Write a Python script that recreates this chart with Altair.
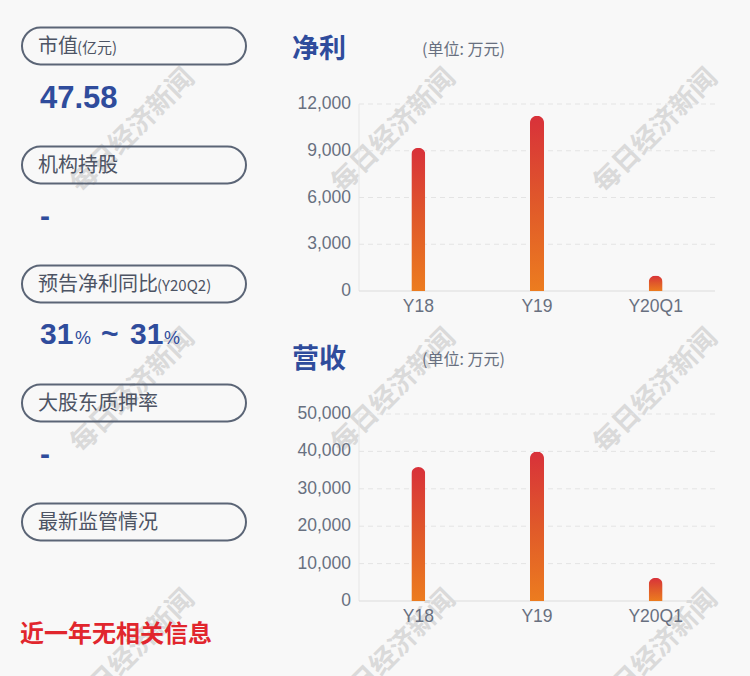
import altair as alt
import pandas as pd

# ---------------- data ----------------
periods = ["Y18", "Y19", "Y20Q1"]
net_profit = [9200, 11250, 1000]          # 万元
revenue = [35800, 40000, 6200]            # 万元
np_ticks = [0, 3000, 6000, 9000, 12000]
rev_ticks = [0, 10000, 20000, 30000, 40000, 50000]

pill_labels = ["市值", "机构持股", "预告净利同比", "大股东质押率", "最新监管情况"]
pill_suffix = ["(亿元)", "", "(Y20Q2)", "", ""]
market_cap = "47.58"
inst_hold = "-"
forecast_low = "31"
forecast_high = "31"
pledge = "-"
reg_note = "近一年无相关信息"
np_title = "净利"
rev_title = "营收"
unit_text = "(单位: 万元)"
watermark = "每日经济新闻"

# ---------------- style ----------------
CJK = "Noto Sans CJK SC"
LAT = "Liberation Sans"
BLUE = "#2f4c9c"
GREY_TXT = "#4d5464"
AXIS_TXT = "#687080"
PILL = "#5b6576"
RED = "#e1262d"
BG = "#f8f8f8"

one = pd.DataFrame({"k": [0]})


def txt(text, x, y, size, color, weight="normal", font=CJK, align="left",
        baseline="alphabetic", angle=0, opacity=1):
    return alt.Chart(one).mark_text(
        text=text, fontSize=size, color=color, fontWeight=weight, font=font,
        align=align, baseline=baseline, angle=angle, opacity=opacity,
    ).encode(x=alt.value(x), y=alt.value(y))


layers = []

# watermarks (behind everything)
for wy in [131, 391, 652]:
    for wx in [133, 394, 656]:
        layers.append(txt(watermark, wx, wy, 27, "#dadada", weight="bold",
                          align="center", baseline="middle", angle=315))

# ---------------- left panel ----------------
for i, (lab, suf) in enumerate(zip(pill_labels, pill_suffix)):
    cy = 46 + 119 * i
    layers.append(
        alt.Chart(one).mark_rect(
            cornerRadius=18.5, fillOpacity=0, stroke=PILL, strokeWidth=2
        ).encode(x=alt.value(22), x2=alt.value(246),
                 y=alt.value(cy - 18.5), y2=alt.value(cy + 18.5))
    )
    layers.append(txt(lab, 38, cy + 7, 20, GREY_TXT))
    if suf:
        layers.append(txt(suf, 38 + 20 * len(lab) - 1, cy + 7, 15, GREY_TXT))

layers.append(txt(market_cap, 40, 108, 31, BLUE, weight="bold", font=LAT))
layers.append(txt(inst_hold, 40, 226, 30, BLUE, weight="bold", font=LAT))
layers.append(txt(forecast_low, 40, 344, 30, BLUE, weight="bold", font=LAT))
layers.append(txt("%", 75, 344, 18, BLUE, font=LAT))
layers.append(txt("~", 101, 344, 30, BLUE, weight="bold", font=LAT))
layers.append(txt(forecast_high, 130, 344, 30, BLUE, weight="bold", font=LAT))
layers.append(txt("%", 164, 344, 18, BLUE, font=LAT))
layers.append(txt(pledge, 40, 464, 30, BLUE, weight="bold", font=LAT))
layers.append(txt(reg_note, 20, 635, 24, RED, weight="bold", baseline="middle"))

# ---------------- bar panels ----------------
X0, X1 = 359, 715
grad = alt.Gradient(
    gradient="linear", x1=0, x2=0, y1=1, y2=0,
    stops=[alt.GradientStop(color="#ec7c1f", offset=0),
           alt.GradientStop(color="#e0592a", offset=0.5),
           alt.GradientStop(color="#d8313a", offset=1)],
)


def bar_panel(values, ticks, title, y_title, y_top, y_bottom):
    df = pd.DataFrame({"period": periods, "value": values})
    tdf = pd.DataFrame({"tick": ticks})
    xs = alt.Scale(domain=periods, range=[X0, X1], paddingInner=0, paddingOuter=0)
    ys = alt.Scale(domain=[min(ticks), max(ticks)], range=[y_bottom, y_top], nice=False)
    grid = alt.Chart(tdf).transform_filter("datum.tick > 0").mark_rule(
        color="#e4e4e4", strokeDash=[5, 4], strokeWidth=1
    ).encode(y=alt.Y("tick:Q", scale=ys, axis=None), x=alt.value(X0), x2=alt.value(X1))
    vline = alt.Chart(one).mark_rule(color="#e6e6e6", strokeWidth=1).encode(
        x=alt.value(X0), y=alt.value(y_top), y2=alt.value(y_bottom))
    hline = alt.Chart(one).mark_rule(color="#dcdcdc", strokeWidth=1).encode(
        x=alt.value(X0), x2=alt.value(X1), y=alt.value(y_bottom))
    bars = alt.Chart(df).mark_bar(size=14, cornerRadiusEnd=7, color=grad).encode(
        x=alt.X("period:N", scale=xs, axis=None),
        y=alt.Y("value:Q", scale=ys, axis=None),
    )
    ylab = alt.Chart(tdf).mark_text(
        align="right", baseline="middle", fontSize=17.5, color=AXIS_TXT, font=LAT
    ).encode(y=alt.Y("tick:Q", scale=ys, axis=None), x=alt.value(351),
             text=alt.Text("tick:Q", format=","))
    xlab = alt.Chart(df).mark_text(
        align="center", baseline="middle", fontSize=17.5, color=AXIS_TXT, font=LAT
    ).encode(x=alt.X("period:N", scale=xs, axis=None), y=alt.value(y_bottom + 16),
             text="period:N")
    t1 = txt(title, 292, y_title, 27, BLUE, weight="bold", baseline="middle")
    t2 = txt(unit_text, 422, y_title, 16, AXIS_TXT, baseline="middle")
    return alt.layer(grid, vline, hline, bars, ylab, xlab, t1, t2)


layers.append(bar_panel(net_profit, np_ticks, np_title, 50, 104, 291))
layers.append(bar_panel(revenue, rev_ticks, rev_title, 360, 414, 601))

chart = alt.layer(*layers).resolve_scale(
    x="independent", y="independent"
).properties(
    width=750, height=676, padding=0,
    autosize=alt.AutoSizeParams(type="none"),
).configure(background=BG).configure_view(strokeWidth=0)

chart.save("out.html", embed_options={"renderer": "svg", "actions": False})
